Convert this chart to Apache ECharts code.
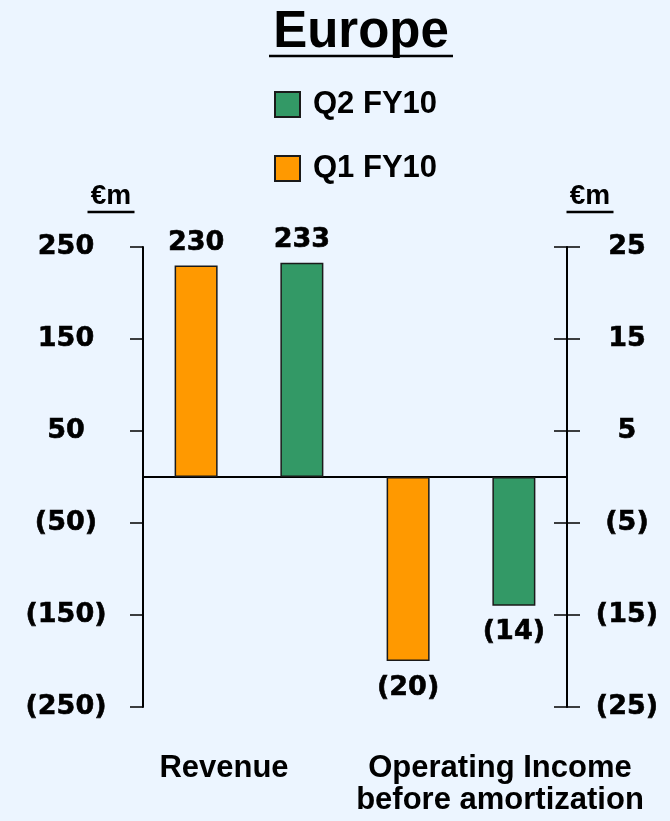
<!DOCTYPE html>
<html>
<head>
<meta charset="utf-8">
<title>Europe</title>
<script src="https://cdn.jsdelivr.net/npm/echarts@6/dist/echarts.min.js"></script>
<style>
  html, body { margin: 0; padding: 0; background: #ECF5FF; }
  #chart { width: 670px; height: 821px; }
</style>
</head>
<body>
<div id="chart"></div>
<script>
// Categories on the x axis
const categories = ['Revenue', 'Operating Income\nbefore amortization'];
// Series values (€m): [Revenue, Operating Income before amortization]
const q1FY10 = [230, -20];
const q2FY10 = [233, -14];
// Value axes: revenue on the left, operating income on the right
const leftScale = { min: -250, max: 250, interval: 100 };
const rightScale = { min: -25, max: 25, interval: 10 };

const ORANGE = '#FF9900';
const GREEN = '#339966';
const SANS = 'Liberation Sans, Arial, sans-serif';
const NUM = 'DejaVu Sans, sans-serif';

// Accounting style: negatives in brackets
const fmt = v => (v < 0 ? '(' + (-v) + ')' : String(v));

// Only one value per category, the other slot left empty
const only = (arr, i) => arr.map((v, k) => (k === i ? v : '-'));

const numText = {
  color: '#000',
  fontFamily: NUM,
  fontWeight: 'bold',
  fontSize: 27,
  textBorderColor: '#000',
  textBorderWidth: 0.6
};

const barCommon = {
  type: 'bar',
  barWidth: 43,
  barGap: '146%',
  xAxisIndex: 0,
  label: Object.assign({ show: true, formatter: p => fmt(p.value) }, numText)
};

function bar(name, arr, idx, color, yAxisIndex, stack, pos) {
  return Object.assign({}, barCommon, {
    name: name,
    stack: stack,
    yAxisIndex: yAxisIndex,
    data: only(arr, idx),
    itemStyle: { color: color, borderColor: '#1a1a1a', borderWidth: 1.5 },
    label: Object.assign({}, barCommon.label, { position: pos, distance: pos === 'top' ? 9 : 13 })
  });
}

const nameRich = {
  t: { fontFamily: SANS, fontWeight: 'bold', fontSize: 28, lineHeight: 26, color: '#000' },
  u: { width: 47, height: 2.5, backgroundColor: '#000', lineHeight: 6 }
};

const valueAxisBase = {
  type: 'value',
  splitLine: { show: false },
  axisLine: { show: true, onZero: false, lineStyle: { color: '#000', width: 2 } },
  axisTick: { show: true, length: 13, lineStyle: { color: '#000', width: 1.5 } },
  axisLabel: Object.assign({ align: 'center', formatter: fmt }, numText)
};

const option = {
  backgroundColor: '#ECF5FF',
  animation: false,
  title: {
    text: '{t|Europe}\n{u| }',
    left: 356,
    top: 6,
    textAlign: 'center',
    textStyle: {
      rich: {
        t: { fontFamily: SANS, fontWeight: 'bold', fontSize: 51, lineHeight: 43, color: '#000' },
        u: { width: 184, height: 2.5, backgroundColor: '#000', lineHeight: 4 }
      }
    }
  },
  legend: {
    orient: 'vertical',
    left: 274,
    top: 89,
    padding: 0,
    itemWidth: 25,
    itemHeight: 25,
    itemGap: 33,
    icon: 'rect',
    data: ['Q2 FY10', 'Q1 FY10'],
    textStyle: {
      fontFamily: SANS,
      fontWeight: 'bold',
      fontSize: 31,
      color: '#000',
      padding: [0, 0, 0, 8]
    }
  },
  grid: { left: 143, right: 103, top: 247, bottom: 114, containLabel: false },
  xAxis: [
    {
      type: 'category',
      data: categories,
      position: 'bottom',
      axisLine: { show: false, onZero: false },
      axisTick: { show: false },
      axisLabel: {
        interval: 0,
        margin: 45,
        formatter: (v, i) => v.split('\n').map(s => '{' + (i === 0 ? 'a' : 'b') + '|' + s + '}').join('\n'),
        rich: {
          a: { fontFamily: SANS, fontWeight: 'bold', fontSize: 31, lineHeight: 32, color: '#000', padding: [0, 50, 0, 0] },
          b: { fontFamily: SANS, fontWeight: 'bold', fontSize: 31, lineHeight: 32, color: '#000', padding: [0, 0, 0, 78] }
        }
      }
    },
    {
      // zero line across the plot
      type: 'category',
      data: categories,
      position: 'bottom',
      axisLine: { show: true, onZero: true, lineStyle: { color: '#000', width: 2 } },
      axisTick: { show: false },
      axisLabel: { show: false }
    }
  ],
  yAxis: [
    Object.assign({}, valueAxisBase, leftScale, {
      position: 'left',
      name: '{t|€m}\n{u| }',
      nameLocation: 'end',
      nameGap: 32,
      nameTextStyle: { rich: nameRich, padding: [0, 64, 0, 0] },
      axisLabel: Object.assign({}, valueAxisBase.axisLabel, { margin: 77 })
    }),
    Object.assign({}, valueAxisBase, rightScale, {
      position: 'right',
      name: '{t|€m}\n{u| }',
      nameLocation: 'end',
      nameGap: 32,
      nameTextStyle: { rich: nameRich, padding: [0, 0, 0, 46] },
      axisLabel: Object.assign({}, valueAxisBase.axisLabel, { margin: 60 })
    }),
    // inner half of the crossing ticks on the right axis
    Object.assign({}, valueAxisBase, rightScale, {
      position: 'right',
      axisLine: { show: false },
      axisTick: { show: true, inside: true, length: 13, lineStyle: { color: '#000', width: 1.5 } },
      axisLabel: { show: false }
    })
  ],
  series: [
    bar('Q1 FY10', q1FY10, 0, ORANGE, 0, 'q1', 'top'),
    bar('Q2 FY10', q2FY10, 0, GREEN, 0, 'q2', 'top'),
    bar('Q1 FY10', q1FY10, 1, ORANGE, 1, 'q1', 'bottom'),
    bar('Q2 FY10', q2FY10, 1, GREEN, 1, 'q2', 'bottom')
  ]
};

const chart = echarts.init(document.getElementById('chart'), null, { renderer: 'canvas' });
chart.setOption(option);
</script>
</body>
</html>
